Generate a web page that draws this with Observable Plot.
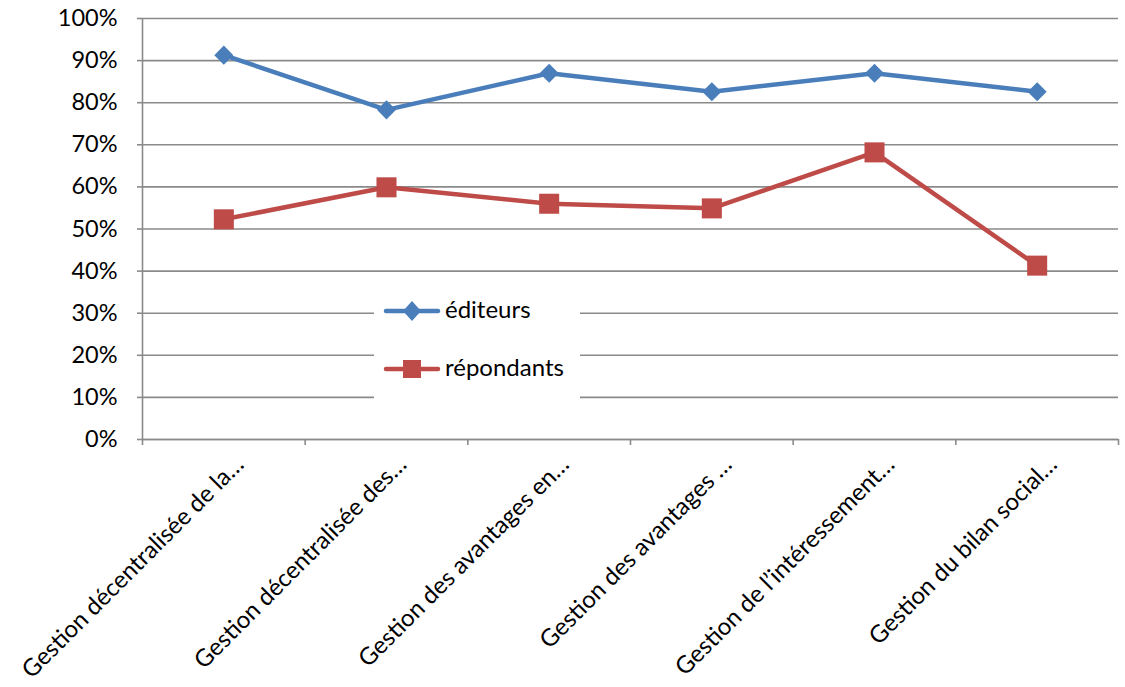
<!DOCTYPE html>
<html>
<head>
<meta charset="utf-8">
<script src="https://cdn.jsdelivr.net/npm/d3@7"></script>
<script src="https://cdn.jsdelivr.net/npm/@observablehq/plot@0.6"></script>
<style>
  html, body { margin: 0; padding: 0; background: #fff; }
  #wrap { position: relative; width: 1125px; height: 687px; font-family: Lato, "Open Sans", sans-serif; }
  #legend { position: absolute; left: 374px; top: 285px; width: 206px; height: 118px; background: #fff; }
  .sw { position: absolute; left: 9px; width: 58px; height: 26px; }
  .lbl { position: absolute; left: 71px; font-size: 24px; line-height: 26px; color: #000; white-space: nowrap; }
</style>
</head>
<body>
<div id="wrap"></div>
<script>
const categories = [
  "Gestion décentralisée de la…",
  "Gestion décentralisée des…",
  "Gestion des avantages en…",
  "Gestion des avantages …",
  "Gestion de l’intéressement…",
  "Gestion du bilan social…"
];
const editeurs = [0.913, 0.783, 0.870, 0.826, 0.870, 0.826];
const repondants = [0.523, 0.599, 0.560, 0.549, 0.682, 0.413];
const seriesNames = ["éditeurs", "répondants"];
const seriesColors = ["#4a7ebb", "#be4b48"];
const seriesSymbols = ["diamond2", "square"];
const yTicks = d3.range(0, 11).map(d => d / 10);

const rows = [];
[editeurs, repondants].forEach((vals, s) => {
  vals.forEach((v, i) => rows.push({series: seriesNames[s], i, v}));
});
const idx = d3.range(categories.length);
const bounds = d3.range(categories.length + 1).map(i => i - 0.5);

const chart = Plot.plot({
  width: 1125,
  height: 687,
  marginLeft: 142,
  marginRight: 7,
  marginTop: 18,
  marginBottom: 248,
  style: {fontFamily: "Lato, 'Open Sans', sans-serif", fontSize: "23px", color: "#000", background: "#fff"},
  x: {type: "linear", domain: [-0.5, categories.length - 0.5]},
  y: {domain: [0, 1]},
  color: {domain: seriesNames, range: seriesColors},
  symbol: {domain: seriesNames, range: seriesSymbols},
  marks: [
    Plot.gridY(yTicks, {stroke: "#8a8a8a", strokeOpacity: 1, strokeWidth: 1.6}),
    Plot.axisY(yTicks, {tickFormat: d3.format(".0%"), tickSize: 5, tickPadding: 20, stroke: "#8a8a8a", strokeWidth: 1.6, label: null, fontSize: 23.5}),
    Plot.ruleX([-0.5], {stroke: "#8a8a8a", strokeWidth: 1.6}),
    Plot.ruleY([0], {stroke: "#8a8a8a", strokeWidth: 1.6}),
    Plot.axisX(bounds, {tickSize: 6, tickFormat: () => "", stroke: "#8a8a8a", strokeWidth: 1.6, label: null}),
    Plot.axisX(idx, {tickSize: 0, tickPadding: 0, tickFormat: i => categories[i], tickRotate: -45, textAnchor: "end", dx: 16, dy: 21, label: null, fontSize: 24}),
    Plot.line(rows, {x: "i", y: "v", z: "series", stroke: "series", strokeWidth: 4.5, strokeLinejoin: "miter"}),
    Plot.dot(rows.filter(d => d.series === seriesNames[0]), {x: "i", y: "v", symbol: "series", fill: "series", stroke: "none", r: 8.6}),
    Plot.dot(rows.filter(d => d.series === seriesNames[1]), {x: "i", y: "v", symbol: "series", fill: "series", stroke: "none", r: 11.3})
  ]
});

const wrap = document.getElementById("wrap");
wrap.appendChild(chart);

const legend = document.createElement("div");
legend.id = "legend";
seriesNames.forEach((name, s) => {
  const top = s === 0 ? 13 : 71;
  const marker = s === 0
    ? `<path d="M29,3 L38,13 L29,23 L20,13 Z" fill="${seriesColors[s]}"/>`
    : `<rect x="20" y="4" width="18" height="18" fill="${seriesColors[s]}"/>`;
  const sw = document.createElement("div");
  sw.className = "sw";
  sw.style.top = top + "px";
  sw.innerHTML = `<svg width="58" height="26"><line x1="3" y1="13" x2="55" y2="13" stroke="${seriesColors[s]}" stroke-width="4.5" stroke-linecap="round"/>${marker}</svg>`;
  const lbl = document.createElement("div");
  lbl.className = "lbl";
  lbl.style.top = (top - 2) + "px";
  lbl.textContent = name;
  legend.appendChild(sw);
  legend.appendChild(lbl);
});
wrap.appendChild(legend);
</script>
</body>
</html>
